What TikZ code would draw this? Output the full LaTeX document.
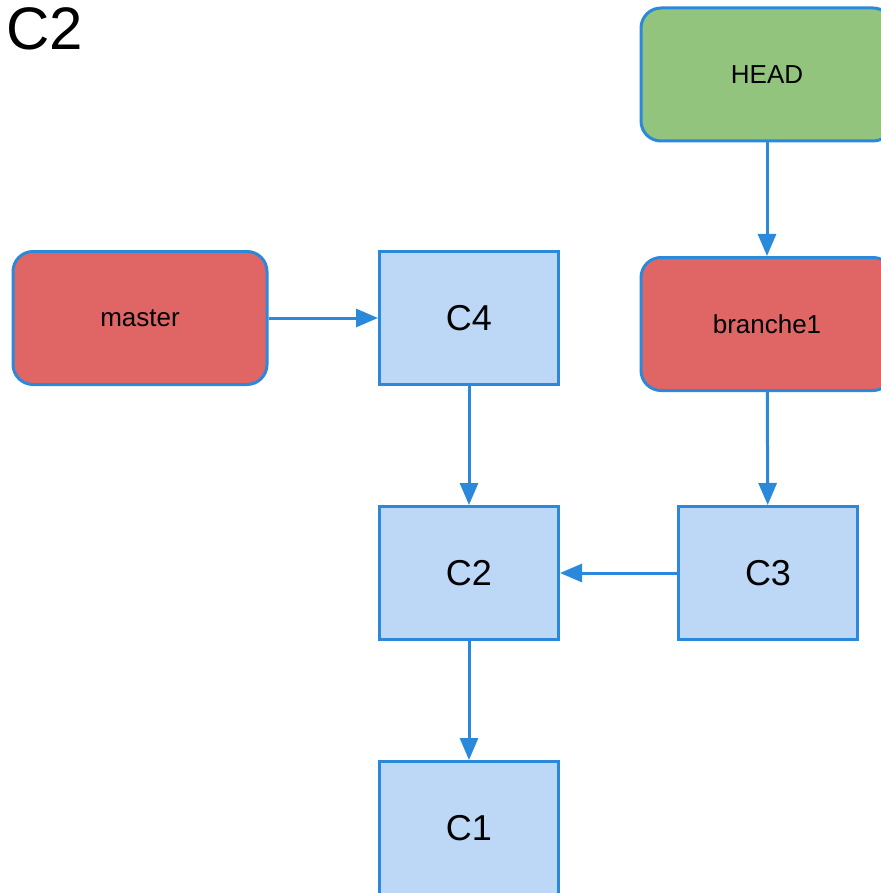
\documentclass[tikz,border=0pt]{standalone}
\usepackage{fontspec}
\setmainfont{Liberation Sans}
\usetikzlibrary{arrows.meta}
\definecolor{edgeblue}{HTML}{2B89DC}
\definecolor{commitfill}{HTML}{BCD8F6}
\definecolor{branchred}{HTML}{E06666}
\definecolor{headgreen}{HTML}{93C47D}
\tikzset{
  commit/.style={draw=edgeblue, line width=3pt, fill=commitfill, inner sep=0pt,
    minimum width=179pt, minimum height=133pt, font=\fontsize{36}{40}\selectfont},
  refbox/.style={draw=edgeblue, line width=3pt, rounded corners=20pt, inner sep=0pt,
    minimum width=252pt, minimum height=133pt, font=\fontsize{26}{30}\selectfont},
  link/.style={draw=edgeblue, line width=3pt, -{Triangle[length=22pt,width=18pt]}}
}
\begin{document}
\begin{tikzpicture}[x=1pt,y=-1pt]
  \useasboundingbox (0,0) rectangle (880,893);
  \node[anchor=base west, inner sep=0pt, font=\fontsize{60}{64}\selectfont] (title) at (6,50) {C2};
  \node[refbox, fill=headgreen] (head) at (767,74.5) {HEAD};
  \node[refbox, fill=branchred] (branche) at (767,324) {branche1};
  \node[refbox, fill=branchred, minimum width=254pt] (master) at (140,318) {master};
  \node[commit] (c4) at (469,318) {C4};
  \node[commit] (c2) at (469,573) {C2};
  \node[commit] (c3) at (768,573) {C3};
  \node[commit] (c1) at (469,828) {C1};
  \draw[link] (head) -- (branche);
  \draw[link] (master) -- (c4);
  \draw[link] (c4) -- (c2);
  \draw[link] (branche) -- (c3);
  \draw[link] (c3) -- (c2);
  \draw[link] (c2) -- (c1);
\end{tikzpicture}
\end{document}
